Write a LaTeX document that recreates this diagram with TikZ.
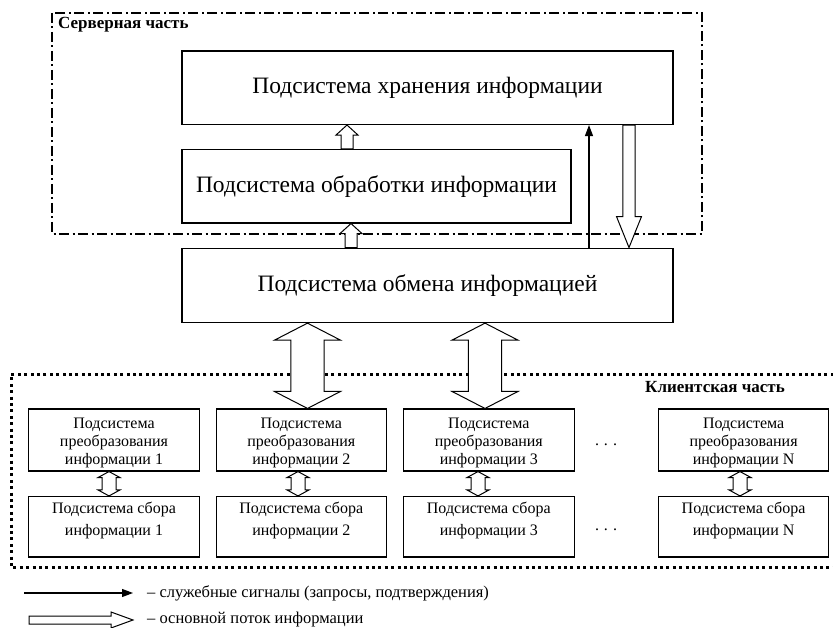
\documentclass[tikz,border=0pt]{standalone}
\usepackage{fontspec}
\setmainfont{Liberation Serif}
\usetikzlibrary{arrows.meta,calc}
\tikzset{
  box/.style={draw, line width=1.1pt, inner sep=0pt},
  mainbox/.style={box, minimum height=73.5pt, font=\fontsize{23.5}{26}\selectfont},
  cbox/.style={box, minimum width=170.5pt},
  ctext/.style={align=center, font=\fontsize{16}{18}\selectfont},
  ctexttwo/.style={align=center, font=\fontsize{16}{22.5}\selectfont},
  partlabel/.style={font=\bfseries\fontsize{17}{19}\selectfont, inner sep=0pt},
  legtext/.style={font=\fontsize{16.5}{19}\selectfont, inner sep=0pt, anchor=west},
  dotstext/.style={font=\fontsize{16}{18}\selectfont},
  dashdotframe/.style={line width=1.4pt, dash pattern=on 10pt off 3.5pt on 2pt off 3.5pt},
  dotframe/.style={line width=3pt, dash pattern=on 3pt off 3.4pt},
  hollow/.style={draw, fill=white, line width=1pt, line join=miter},
  signal/.style={line width=1.1pt, -{Triangle[width=8pt,length=11pt]}},
}
% vertical hollow arrow: from #1 to #2 (head at #2); #3 shaft half width, #4 head half width, #5 head length
\newcommand\vhollow[5]{%
  \path[hollow] let \p1=(#1), \p2=(#2), \p3=($(#2)!#5!(#1)$) in
    (\x1-#3,\y1) -- (\x1-#3,\y3) -- (\x1-#4,\y3) -- (\x1,\y2) -- (\x1+#4,\y3) -- (\x1+#3,\y3) -- (\x1+#3,\y1) -- cycle;}
% vertical hollow double arrow
\newcommand\vdhollow[5]{%
  \path[hollow] let \p1=(#1), \p2=(#2), \p3=($(#2)!#5!(#1)$), \p4=($(#1)!#5!(#2)$) in
    (\x1,\y1) -- (\x1+#4,\y4) -- (\x1+#3,\y4) -- (\x1+#3,\y3) -- (\x1+#4,\y3) -- (\x1,\y2)
    -- (\x1-#4,\y3) -- (\x1-#3,\y3) -- (\x1-#3,\y4) -- (\x1-#4,\y4) -- cycle;}
% horizontal hollow arrow
\newcommand\hhollow[5]{%
  \path[hollow] let \p1=(#1), \p2=(#2), \p3=($(#2)!#5!(#1)$) in
    (\x1,\y1-#3) -- (\x3,\y1-#3) -- (\x3,\y1-#4) -- (\x2,\y1) -- (\x3,\y1+#4) -- (\x3,\y1+#3) -- (\x1,\y1+#3) -- cycle;}
\begin{document}
\begin{tikzpicture}[x=1pt,y=-1pt]
\useasboundingbox (0,0) rectangle (833,628);

% server part
\draw[dashdotframe] (52,13) rectangle (702,234);
\node[partlabel, anchor=west] (slab) at (58,25) {Серверная часть};

\node[mainbox, minimum width=491pt] (stor) at (427.5,87.75) {Подсистема хранения информации};
\node[mainbox, minimum width=389pt] (proc) at (376.5,186.25) {Подсистема обработки информации};
\node[mainbox, minimum width=491pt, minimum height=74.5pt] (exch) at (427.5,285.35) {Подсистема обмена информацией};

% client part
\draw[dotframe] (840,374.5) -| (11,567) -- (840,567);
\node[partlabel] (clab) at (715,387) {Клиентская часть};

\foreach \k/\x/\lab in {1/114/1, 2/301.3/2, 3/488.8/3, N/743.6/N}{
  \node[cbox, minimum height=62pt,
        label={[ctext, yshift=-3pt]center:Подсистема\\преобразования\\информации \lab}] (c\k a) at (\x,440) {};
  \node[cbox, minimum height=60.5pt,
        label={[ctexttwo, yshift=6.5pt]center:Подсистема сбора\\информации \lab}] (c\k b) at (\x,526.75) {};
}
\node[dotstext] (dotsa) at (606,445) {.\hspace{5pt}.\hspace{5pt}.};
\node[dotstext] (dotsb) at (606,530) {.\hspace{5pt}.\hspace{5pt}.};

% arrow x positions
\coordinate (xa) at (347,0);
\coordinate (xb) at (351,0);
\coordinate (xc) at (589,0);
\coordinate (xd) at (629,0);
\coordinate (xe) at (307.5,0);
\coordinate (xf) at (485,0);
\coordinate (x1) at (109,0);
\coordinate (x2) at (298,0);
\coordinate (x3) at (478,0);
\coordinate (xN) at (740,0);

% server arrows
\vhollow{proc.north -| xa}{stor.south -| xa}{6pt}{11pt}{10pt}
\vhollow{exch.north -| xb}{proc.south -| xb}{6pt}{11pt}{10pt}
\draw[signal] (exch.north -| xc) -- (stor.south -| xc);
\vhollow{stor.south -| xd}{exch.north -| xd}{6.2pt}{12.5pt}{31pt}

% exchange <-> clients
\vdhollow{exch.south -| xe}{c2a.north -| xe}{16.6pt}{33pt}{17pt}
\vdhollow{exch.south -| xf}{c3a.north -| xf}{16.6pt}{33pt}{17pt}

% small double arrows
\vdhollow{c1a.south -| x1}{c1b.north -| x1}{7pt}{11pt}{6pt}
\vdhollow{c2a.south -| x2}{c2b.north -| x2}{7pt}{11pt}{6pt}
\vdhollow{c3a.south -| x3}{c3b.north -| x3}{7pt}{11pt}{6pt}
\vdhollow{cNa.south -| xN}{cNb.north -| xN}{7pt}{11pt}{6pt}

% legend
\coordinate (l1s) at (24,593);
\coordinate (l1e) at (133,593);
\coordinate (l2s) at (29,620);
\coordinate (l2e) at (133,620);
\draw[signal] (l1s) -- (l1e);
\hhollow{l2s}{l2e}{4pt}{8pt}{22pt}
\node[legtext] (leg1) at (147,593) {– служебные сигналы (запросы, подтверждения)};
\node[legtext] (leg2) at (147,620) {– основной поток информации};
\end{tikzpicture}
\end{document}
